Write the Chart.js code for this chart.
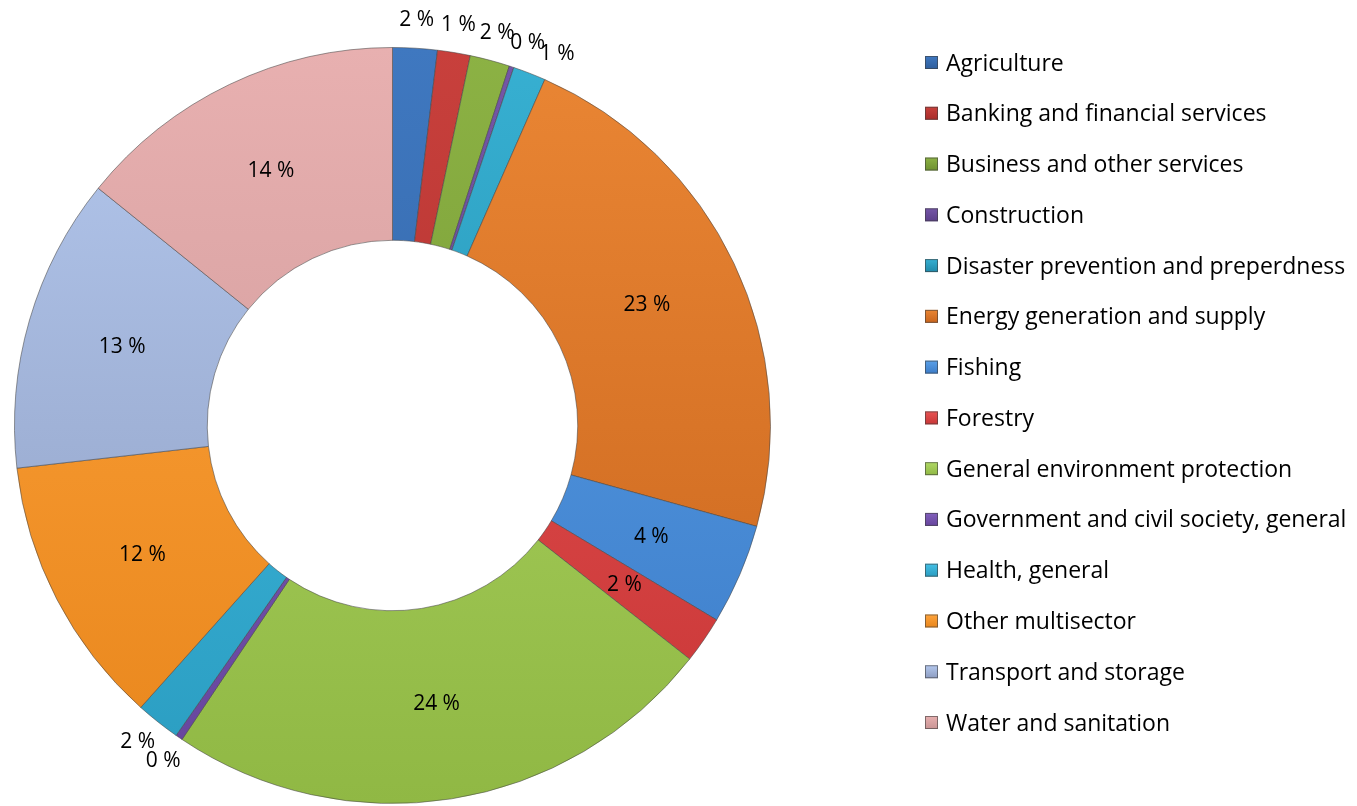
<!DOCTYPE html>
<html>
<head>
<meta charset="utf-8">
<script src="https://cdn.jsdelivr.net/npm/chart.js@4"></script>
<style>
  html, body { margin: 0; padding: 0; background: #fff; }
  #wrap { width: 1357px; height: 806px; }
</style>
</head>
<body>
<div id="wrap"><canvas id="grafico"></canvas></div>
<script>
// Sectors and shares (percent)
const sectores = [
    'Agriculture', 'Banking and financial services', 'Business and other services',
    'Construction', 'Disaster prevention and preperdness', 'Energy generation and supply',
    'Fishing', 'Forestry', 'General environment protection',
    'Government and civil society, general', 'Health, general', 'Other multisector',
    'Transport and storage', 'Water and sanitation'
];
const valores = [1.9, 1.4, 1.7, 0.2, 1.4, 22.7, 4.3, 2.0, 23.8, 0.3, 1.9, 11.6, 12.6, 14.2];

// top / bottom colour of each slice
const coresTopo = ['#3f78c0', '#c8403c', '#8cb244', '#7556a8', '#37b0d2', '#ea8634',
    '#5aa0e8', '#e85454', '#b0d866', '#8260bc', '#44c0e6', '#ffa43c', '#b4c8ee', '#e8b0b0'];
const coresBase = ['#2f5e9c', '#a82c2a', '#6e9030', '#5c3f8a', '#2088a8', '#c8641c',
    '#3c7cc8', '#c83636', '#90b844', '#66449c', '#2a9cc0', '#e8861c', '#8c9cc0', '#c89494'];

const fonte = '"Open Sans", "Lato", sans-serif';

function gradiente(ctx, i) {
    const area = ctx.chart.chartArea;
    if (!area) return coresTopo[i];
    const g = ctx.chart.ctx.createLinearGradient(0, area.top, 0, area.bottom);
    g.addColorStop(0, coresTopo[i]);
    g.addColorStop(1, coresBase[i]);
    return g;
}

// Percent labels on the ring (small slices go outside, pushed apart a bit)
const rotulos = {
    id: 'rotulos',
    afterDatasetsDraw(chart) {
        const c = chart.ctx;
        const meta = chart.getDatasetMeta(0);
        const gapMin = 4.5 * Math.PI / 180;
        let ultimoFora = null;
        c.save();
        c.font = '21px ' + fonte;
        c.fillStyle = '#000';
        c.textAlign = 'center';
        c.textBaseline = 'middle';
        meta.data.forEach((arc, i) => {
            const p = arc.getProps(['x', 'y', 'startAngle', 'endAngle', 'innerRadius', 'outerRadius'], true);
            let ang = (p.startAngle + p.endAngle) / 2;
            let r;
            if (valores[i] >= 2) {
                r = (p.innerRadius + p.outerRadius) / 2;
                ultimoFora = null;
            } else {
                r = p.outerRadius + 28;
                if (ultimoFora !== null && ang - ultimoFora < gapMin) ang = ultimoFora + gapMin;
                ultimoFora = ang;
            }
            const txt = Math.round(valores[i]) + ' %';
            c.fillText(txt, p.x + Math.cos(ang) * r, p.y + Math.sin(ang) * r);
        });
        c.restore();
    }
};

// Legend on the right
const legenda = {
    id: 'legenda',
    afterDraw(chart) {
        const c = chart.ctx;
        c.save();
        c.font = '23px ' + fonte;
        c.textBaseline = 'middle';
        c.textAlign = 'left';
        sectores.forEach((nome, i) => {
            const y = 62 + i * 50.77;
            const g = c.createLinearGradient(0, y - 6, 0, y + 7);
            g.addColorStop(0, coresTopo[i]);
            g.addColorStop(1, coresBase[i]);
            c.fillStyle = g;
            c.fillRect(925, y - 6, 13, 13);
            c.strokeStyle = 'rgba(60,60,60,0.6)';
            c.lineWidth = 1;
            c.strokeRect(925.5, y - 5.5, 12, 12);
            c.fillStyle = '#000';
            c.fillText(nome, 946, y + 2);
        });
        c.restore();
    }
};

window.addEventListener('DOMContentLoaded', () => {
    const ctx = document.getElementById('grafico').getContext('2d');
    new Chart(ctx, {
        type: 'doughnut',
        data: {
            labels: sectores,
            datasets: [{
                data: valores,
                backgroundColor: (c) => gradiente(c, c.dataIndex),
                borderColor: 'rgba(70,70,70,0.55)',
                borderWidth: 1
            }]
        },
        options: {
            responsive: true,
            maintainAspectRatio: false,
            animation: false,
            cutout: '49%',
            layout: { padding: { left: 14, right: 586, top: 47, bottom: 2 } },
            plugins: {
                legend: { display: false },
                tooltip: { enabled: false }
            }
        },
        plugins: [rotulos, legenda]
    });
});
</script>
</body>
</html>
